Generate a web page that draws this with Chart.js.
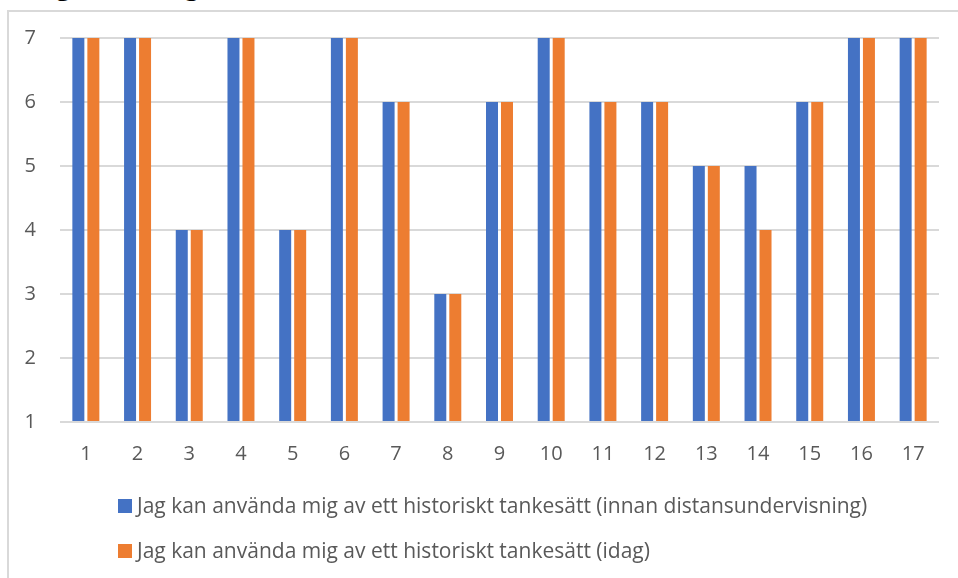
<!DOCTYPE html>
<html lang="sv">
<head>
<meta charset="utf-8">
<title>Bilaga 10: Diagram 9</title>
<script src="https://cdn.jsdelivr.net/npm/chart.js@4.4.1/dist/chart.umd.min.js"></script>
<style>
  html, body { margin: 0; padding: 0; background: #ffffff; }
  #wrap { position: relative; width: 958px; height: 578px; overflow: hidden; }
  #heading {
    position: absolute; left: 4px; top: -30px; margin: 0;
    font-family: "Liberation Serif", "Times New Roman", serif;
    font-size: 30px; line-height: 30px; font-weight: normal; color: #000; white-space: nowrap;
  }
  #heading b { font-weight: bold; }
  #frame {
    position: absolute; left: 7px; top: 10px; width: 1000px; height: 600px;
    border-left: 2px solid #d9d9d9; border-top: 2px solid #d9d9d9;
  }
  #chart { position: absolute; left: 0; top: 0; }
  #legend { position: absolute; left: 118px; top: 0; }
  .item {
    position: absolute; left: 0; white-space: nowrap;
    font-family: "Open Sans", sans-serif; font-size: 21px; line-height: 20px; color: #595959;
  }
  .swatch { position: absolute; left: 0; top: 4px; width: 14px; height: 14px; }
  .item span.txt { position: absolute; left: 19px; top: 0; }
</style>
</head>
<body>
<div id="wrap">
  <div id="frame"></div>
  <h1 id="heading"><b>Bilaga 10:</b> Diagram 9</h1>
  <canvas id="chart" width="958" height="578"></canvas>
  <div id="legend"></div>
</div>
<script>
// Respondents 1–17, self-rated on a 1–7 scale
const categories = ['1','2','3','4','5','6','7','8','9','10','11','12','13','14','15','16','17'];
const seriesNames = [
  'Jag kan använda mig av ett historiskt tankesätt (innan distansundervisning)',
  'Jag kan använda mig av ett historiskt tankesätt (idag)'
];
const before = [7, 7, 4, 7, 4, 7, 6, 3, 6, 7, 6, 6, 5, 5, 6, 7, 7];
const today  = [7, 7, 4, 7, 4, 7, 6, 3, 6, 7, 6, 6, 5, 4, 6, 7, 7];
const yTicks = [1, 2, 3, 4, 5, 6, 7];

const colors = ['#4472C4', '#ED7D31'];
const tickFont = { family: 'Open Sans', size: 20 };

const chart = new Chart(document.getElementById('chart'), {
  type: 'bar',
  data: {
    labels: categories,
    datasets: [before, today].map((values, i) => ({
      label: seriesNames[i],
      data: values,
      base: yTicks[0],
      backgroundColor: colors[i],
      borderWidth: 0,
      categoryPercentage: 0.58,
      barPercentage: 0.8
    }))
  },
  options: {
    responsive: false,
    animation: false,
    layout: { padding: { left: 0, right: 19, top: 38, bottom: 106 } },
    plugins: { legend: { display: false }, tooltip: { enabled: false } },
    scales: {
      x: {
        grid: { display: false, drawTicks: false },
        border: { display: false },
        ticks: { color: '#595959', font: tickFont, padding: 20, maxRotation: 0 },
        afterFit: (s) => { s.height = 50; }
      },
      y: {
        min: yTicks[0],
        max: yTicks[yTicks.length - 1],
        afterBuildTicks: (s) => { s.ticks = yTicks.map(v => ({ value: v })); },
        grid: { color: '#d9d9d9', lineWidth: 2, drawTicks: false },
        border: { display: false },
        ticks: { color: '#595959', font: tickFont, padding: 24 },
        afterFit: (s) => { s.width = 60; }
      }
    }
  }
});

// Legend rows built from the dataset labels and colours
const legend = document.getElementById('legend');
const rowTops = [495, 540];
chart.data.datasets.forEach((ds, i) => {
  const row = document.createElement('div');
  row.className = 'item';
  row.style.top = rowTops[i] + 'px';
  const sw = document.createElement('span');
  sw.className = 'swatch';
  sw.style.background = ds.backgroundColor;
  const txt = document.createElement('span');
  txt.className = 'txt';
  txt.textContent = ds.label;
  row.appendChild(sw);
  row.appendChild(txt);
  legend.appendChild(row);
});
</script>
</body>
</html>
